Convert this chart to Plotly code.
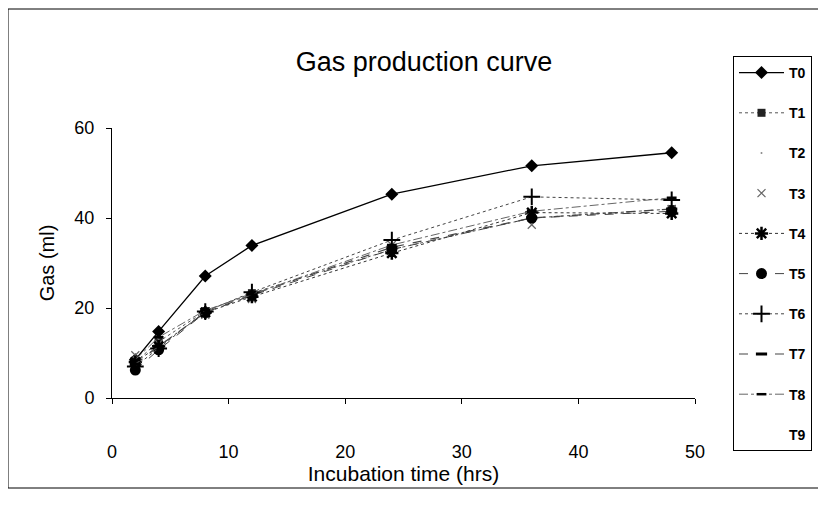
import plotly.graph_objects as go

hours = [2, 4, 8, 12, 24, 36, 48]
series_names = ["T0", "T1", "T2", "T3", "T4", "T5", "T6", "T7", "T8", "T9"]
T0 = [8.5, 14.8, 27.1, 33.9, 45.3, 51.6, 54.5]
T1 = [8.0, 12.5, 19.3, 23.3, 33.0, 40.0, 42.0]
T2 = [9.0, 13.0, 19.0, 22.5, 33.5, 40.5, 42.5]
T3 = [9.5, 12.0, 18.5, 22.0, 34.0, 38.5, 42.0]
T4 = [8.0, 11.5, 19.0, 22.5, 32.2, 41.2, 41.0]
T5 = [6.2, 10.7, 19.0, 22.8, 33.0, 40.0, 41.5]
T6 = [7.0, 11.0, 19.2, 23.5, 35.1, 44.7, 44.0]
T7 = [7.5, 11.5, 19.0, 23.0, 33.5, 40.0, 42.0]
T8 = [8.5, 13.5, 19.5, 23.0, 34.0, 41.5, 44.5]
T9 = [9.0, 12.5, 19.0, 23.0, 34.0, 40.0, 42.0]
values = [T0, T1, T2, T3, T4, T5, T6, T7, T8, T9]

styles = [
    dict(mode="lines+markers", line=dict(color="black", width=1.3, dash="solid"),
         marker=dict(symbol="diamond", size=10, color="black")),
    dict(mode="lines+markers", line=dict(color="#555", width=1, dash="dot"),
         marker=dict(symbol="square", size=8, color="#222")),
    dict(mode="markers", line=dict(color="#bbb", width=1, dash="dot"),
         marker=dict(symbol="circle", size=2, color="#888")),
    dict(mode="markers", line=dict(color="#bbb", width=1, dash="dot"),
         marker=dict(symbol="x-thin", size=8, color="#666", line=dict(width=1.2, color="#666"))),
    dict(mode="lines+markers", line=dict(color="#333", width=1, dash="dot"),
         marker=dict(symbol="asterisk", size=11, color="black", line=dict(width=2.5, color="black"))),
    dict(mode="lines+markers", line=dict(color="#444", width=1, dash="dash"),
         marker=dict(symbol="circle", size=11, color="black")),
    dict(mode="lines+markers", line=dict(color="#444", width=1, dash="dot"),
         marker=dict(symbol="cross-thin", size=12, color="black", line=dict(width=2, color="black"))),
    dict(mode="lines+markers", line=dict(color="#444", width=1.2, dash="dash"),
         marker=dict(symbol="line-ew", size=8, color="black", line=dict(width=3, color="black"))),
    dict(mode="lines+markers", line=dict(color="#666", width=1, dash="dashdot"),
         marker=dict(symbol="line-ew", size=7, color="black", line=dict(width=2.5, color="black"))),
    dict(mode="lines", line=dict(color="rgba(255,255,255,0)", width=1),
         marker=dict(symbol="circle", size=1, color="white")),
]

fig = go.Figure()
for name, vals, st in zip(series_names, values, styles):
    fig.add_trace(go.Scatter(x=hours, y=vals, name=name, legendgroup=name, **st))

OFF = 8  # page body margin
W, H = 826, 507
# screen positions of the plot area (reference picture)
sx0, sx1 = 112, 695
sy0, sy1 = 398, 128
fx0, fx1 = sx0 - OFF, sx1 - OFF
fy0, fy1 = sy0 - OFF, sy1 - OFF


def pxx(s):
    return (s - OFF - fx0) / (fx1 - fx0)


def pyy(s):
    return (fy0 - (s - OFF)) / (fy0 - fy1)


fig.update_layout(
    width=W, height=H,
    margin=dict(l=fx0, r=W - fx1, t=fy1, b=H - fy0, pad=0),
    paper_bgcolor="white", plot_bgcolor="white",
    font=dict(family="Liberation Sans, Arial, sans-serif", color="black", size=17),
    title=dict(text="Gas production curve", x=(424 - OFF) / W, xanchor="center",
               y=1 - (62 - OFF) / H, yanchor="middle",
               font=dict(size=27, color="black")),
    showlegend=True,
    legend=dict(x=pxx(733), xanchor="left", y=pyy(56), yanchor="top",
                bordercolor="black", borderwidth=1, bgcolor="white",
                tracegroupgap=19, font=dict(size=14, color="black", weight="bold"),
                itemwidth=45, maxheight=470),
    xaxis=dict(range=[0, 50], tickvals=[0, 10, 20, 30, 40, 50], showgrid=False, zeroline=False,
               showline=True, linecolor="black", linewidth=1, ticks="outside", ticklen=5,
               tickcolor="black", ticklabelstandoff=32, tickfont=dict(size=18),
               title=dict(text="Incubation time (hrs)", font=dict(size=21), standoff=2)),
    yaxis=dict(range=[0, 60], tickvals=[0, 20, 40, 60], showgrid=False, zeroline=False,
               showline=True, linecolor="black", linewidth=1, ticks="outside", ticklen=5,
               tickcolor="black", ticklabelstandoff=8, tickfont=dict(size=18),
               title=dict(text="Gas (ml)", font=dict(size=20), standoff=14)),
    shapes=[dict(type="rect", xref="paper", yref="paper",
                 x0=pxx(8), x1=pxx(840), y0=pyy(488), y1=pyy(9),
                 line=dict(color="black", width=1), fillcolor="rgba(0,0,0,0)", layer="below")],
)

fig.write_html("out.html")
